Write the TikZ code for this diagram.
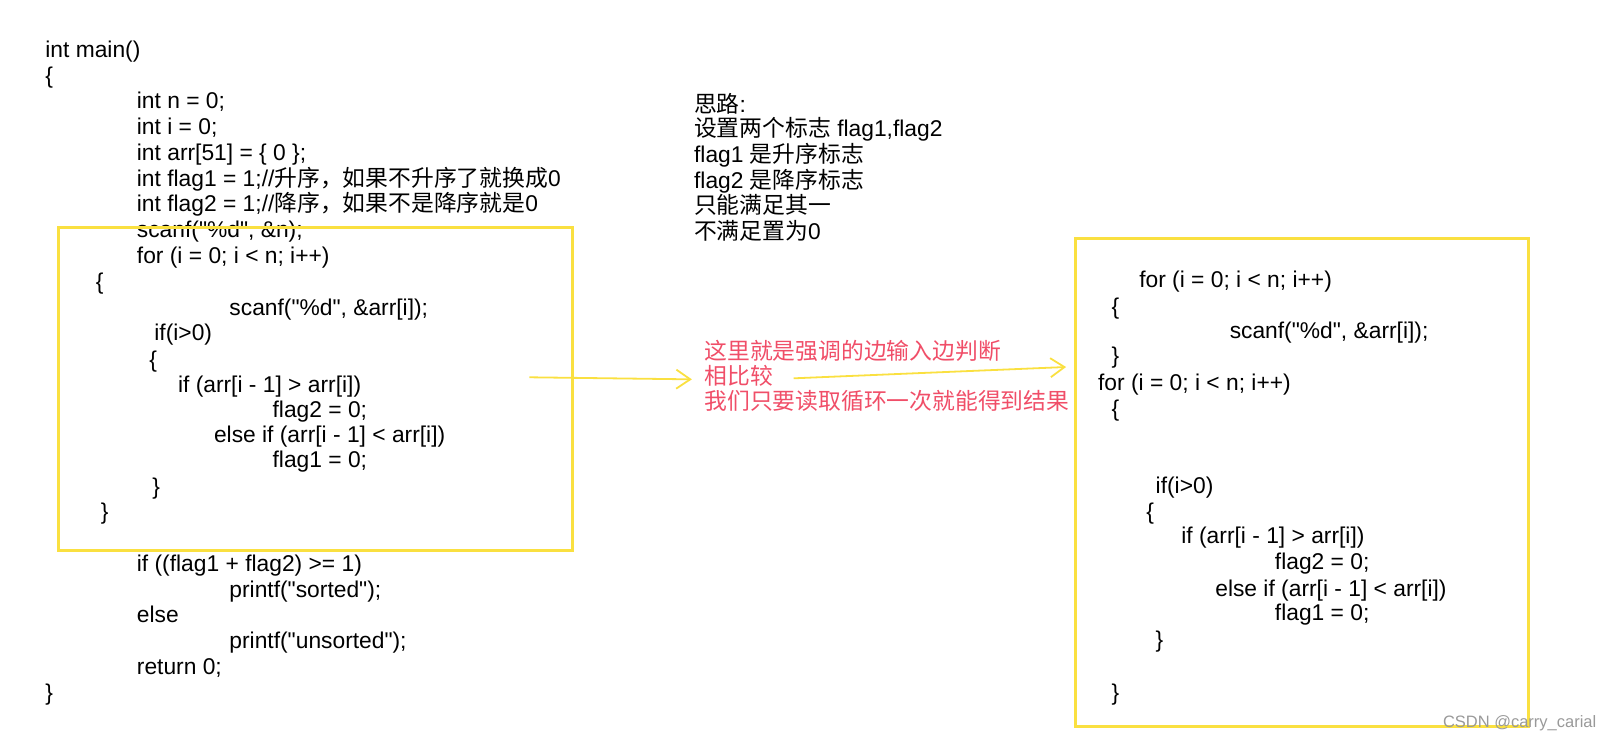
\documentclass[tikz,border=0pt]{standalone}
\usepackage{fontspec}
\usepackage{xcolor}
\usepackage{tikz}
\usetikzlibrary{arrows.meta}
\setmainfont{Liberation Sans}[Ligatures=TeXOff]
\newfontfamily\cjk{Noto Sans CJK SC}[Scale=1.0]
\definecolor{markyellow}{RGB}{250,224,64}
\definecolor{notered}{RGB}{240,78,104}

\tikzset{
  code/.style={anchor=base west, inner sep=0pt, font=\fontsize{22.8}{26}\selectfont},
  note/.style={code, text=black},
  rednote/.style={code, text=notered},
  markbox/.style={draw=markyellow, line width=3pt},
  markarrow/.style={draw=markyellow, line width=1.8pt, -{Straight Barb[length=14pt,width=19pt,line width=1.8pt]}}
}

\begin{document}
\begin{tikzpicture}[x=1.028pt,y=-1.028pt]
\useasboundingbox (0,0) rectangle (1569,722.8);
% left code
\node [code] (m0) at (44,56) {int main()};
\node [code] (m1) at (44,81) {\{};
\node [code] (m2) at (133,106) {int n = 0;};
\node [code] (m3) at (133,131) {int i = 0;};
\node [code] (m4) at (133,156) {int arr[51] = \{ 0 \};};
\node [code] (m5) at (133,181) {int flag1 = 1;//{\cjk 升序，如果不升序了就换成}0};
\node [code] (m6) at (133,206) {int flag2 = 1;//{\cjk 降序，如果不是降序就是}0};
\node [code] (m7) at (133,231) {scanf("\%d", \&n);};
\node [code] (m8) at (133,256) {for (i = 0; i < n; i++)};
\node [code] (m9) at (93,282) {\{};
\node [code] (m10) at (223,307) {scanf("\%d", \&arr[i]);};
\node [code] (m11) at (150,331) {if(i>0)};
\node [code] (m12) at (145,357) {\{};
\node [code] (m13) at (173,382) {if (arr[i - 1] > arr[i])};
\node [code] (m14) at (265,406) {flag2 = 0;};
\node [code] (m15) at (208,430) {else if (arr[i - 1] < arr[i])};
\node [code] (m16) at (265,455) {flag1 = 0;};
\node [code] (m17) at (148,481) {\}};
\node [code] (m18) at (98,505) {\}};
\node [code] (m19) at (133,556) {if ((flag1 + flag2) >= 1)};
\node [code] (m20) at (223,581) {printf("sorted");};
\node [code] (m21) at (133,606) {else};
\node [code] (m22) at (223,631) {printf("unsorted");};
\node [code] (m23) at (133,656) {return 0;};
\node [code] (m24) at (44,681) {\}};
% idea notes
\node [note] (n1) at (675,109) {{\cjk 思路}:};
\node [note] (n2) at (675,133) {{\cjk 设置两个标志} flag1,flag2};
\node [note] (n3) at (675,158) {flag1 {\cjk 是升序标志}};
\node [note] (n4) at (675,183) {flag2 {\cjk 是降序标志}};
\node [note] (n5) at (675,208) {{\cjk 只能满足其一}};
\node [note] (n6) at (675,233) {{\cjk 不满足置为}0};
\node [rednote] (r1) at (685,350) {\cjk 这里就是强调的边输入边判断};
\node [rednote] (r2) at (685,374) {\cjk 相比较};
\node [rednote] (r3) at (685,398) {\cjk 我们只要读取循环一次就能得到结果};
% right code
\node [code] (k0) at (1108,280) {for (i = 0; i < n; i++)};
\node [code] (k1) at (1081,306) {\{};
\node [code] (k2) at (1196,329) {scanf("\%d", \&arr[i]);};
\node [code] (k3) at (1081,354) {\}};
\node [code] (k4) at (1068,380) {for (i = 0; i < n; i++)};
\node [code] (k5) at (1081,405) {\{};
\node [code] (k6) at (1124,480) {if(i>0)};
\node [code] (k7) at (1115,505) {\{};
\node [code] (k8) at (1149,529) {if (arr[i - 1] > arr[i])};
\node [code] (k9) at (1240,554) {flag2 = 0;};
\node [code] (k10) at (1182,580) {else if (arr[i - 1] < arr[i])};
\node [code] (k11) at (1240,604) {flag1 = 0;};
\node [code] (k12) at (1124,630) {\}};
\node [code] (k13) at (1081,681) {\}};
% boxes and arrows
\coordinate (lboxnw) at (57,221);
\coordinate (lboxse) at (557,535);
\coordinate (rboxnw) at (1046,232);
\coordinate (rboxse) at (1487,707);
\draw [markbox] (lboxnw) rectangle (lboxse);
\draw [markbox] (rboxnw) rectangle (rboxse);
\coordinate (a1) at (515,367);
\coordinate (a2) at (673,369);
\coordinate (a3) at (772,368);
\coordinate (a4) at (1037,357);
\draw [markarrow] (a1) -- (a2);
\draw [markarrow] (a3) -- (a4);
\node [anchor=base east, inner sep=0pt, text=black!40, font=\fontsize{16.5}{18}\selectfont] (wm) at (1553,708) {CSDN @carry\_carial};
\end{tikzpicture}
\end{document}
